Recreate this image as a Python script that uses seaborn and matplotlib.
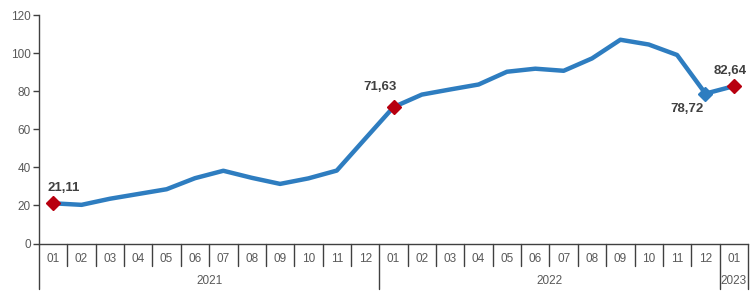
import numpy as np
import pandas as pd
import matplotlib
matplotlib.use("Agg")
import matplotlib.pyplot as plt
import matplotlib.transforms as mtransforms
import seaborn as sns

months = ["01", "02", "03", "04", "05", "06", "07", "08", "09", "10", "11", "12",
          "01", "02", "03", "04", "05", "06", "07", "08", "09", "10", "11", "12",
          "01"]
years = ["2021"] * 12 + ["2022"] * 12 + ["2023"]
values = [21.11, 20.3, 23.5, 26.0, 28.5, 34.3, 38.2, 34.5, 31.3, 34.2, 38.3, 55.0,
          71.63, 78.2, 80.9, 83.5, 90.2, 91.8, 90.7, 97.2, 107.0, 104.5, 99.0, 78.72,
          82.64]
red_points = [0, 12, 24]
blue_points = [23]
label_texts = {0: "21,11", 12: "71,63", 23: "78,72", 24: "82,64"}
# label offsets in pixels (dx, dy up)
label_offsets = {0: (11, 15), 12: (-13, 20), 23: (-18, -15), 24: (-4, 15)}

sns.set_theme(style="white")
plt.rcParams['font.family'] = ['Liberation Sans', 'DejaVu Sans']

df = pd.DataFrame({"idx": np.arange(len(values)), "value": values})

fig = plt.figure(figsize=(7.5, 2.95), dpi=100)
ax = fig.add_axes([39 / 750, (295 - 243.5) / 295, (748 - 39) / 750, (243.5 - 15) / 295])

line_color = "#2e7dc0"
sns.lineplot(data=df, x="idx", y="value", ax=ax, color=line_color, linewidth=3.2)

ax.plot(df["idx"].iloc[red_points], df["value"].iloc[red_points], linestyle="none",
        marker="D", markersize=7.5, color="#b8000f", zorder=5)
ax.plot(df["idx"].iloc[blue_points], df["value"].iloc[blue_points], linestyle="none",
        marker="D", markersize=7.5, color=line_color, zorder=5)

for i, t in label_texts.items():
    dx, dy = label_offsets[i]
    ax.annotate(t, (i, values[i]), xytext=(dx * 0.72, dy * 0.72), textcoords="offset points",
                ha="center", va="center", fontsize=9.5, fontweight="bold", color="#404040",
                annotation_clip=False)

ax.set_xlim(-0.5, len(values) - 0.5)
ax.set_ylim(0, 120)
ax.set_yticks(np.arange(0, 121, 20))
ax.tick_params(axis="y", labelsize=8.5, labelcolor="#595959", length=4, width=1,
               color="#404040", left=True, pad=2)
ax.set_xticks(np.arange(len(values)))
ax.set_xticklabels(months)
ax.tick_params(axis="x", labelsize=8.5, labelcolor="#595959", length=0, pad=7)
ax.set_xlabel("")
ax.set_ylabel("")

for s in ["top", "right"]:
    ax.spines[s].set_visible(False)
for s in ["left", "bottom"]:
    ax.spines[s].set_color("#404040")
    ax.spines[s].set_linewidth(1.0)

trans = mtransforms.blended_transform_factory(ax.transData, ax.transAxes)
ax_h_px = 243.5 - 15
short = -(266 - 243.5) / ax_h_px
long_ = -(289 - 243.5) / ax_h_px
for b in range(len(values) + 1):
    x = b - 0.5
    is_year_boundary = b == 0 or b == len(values) or years[b] != years[b - 1]
    ax.plot([x, x], [0, long_ if is_year_boundary else short], transform=trans,
            color="#404040", linewidth=1.0, clip_on=False)

for y in sorted(set(years)):
    idxs = [i for i, yy in enumerate(years) if yy == y]
    center = (idxs[0] + idxs[-1]) / 2
    ax.text(center, -(281 - 243.5) / ax_h_px, y, transform=trans, ha="center", va="center",
            fontsize=8.5, color="#595959")

fig.savefig("out.png", dpi=100, facecolor="white")
